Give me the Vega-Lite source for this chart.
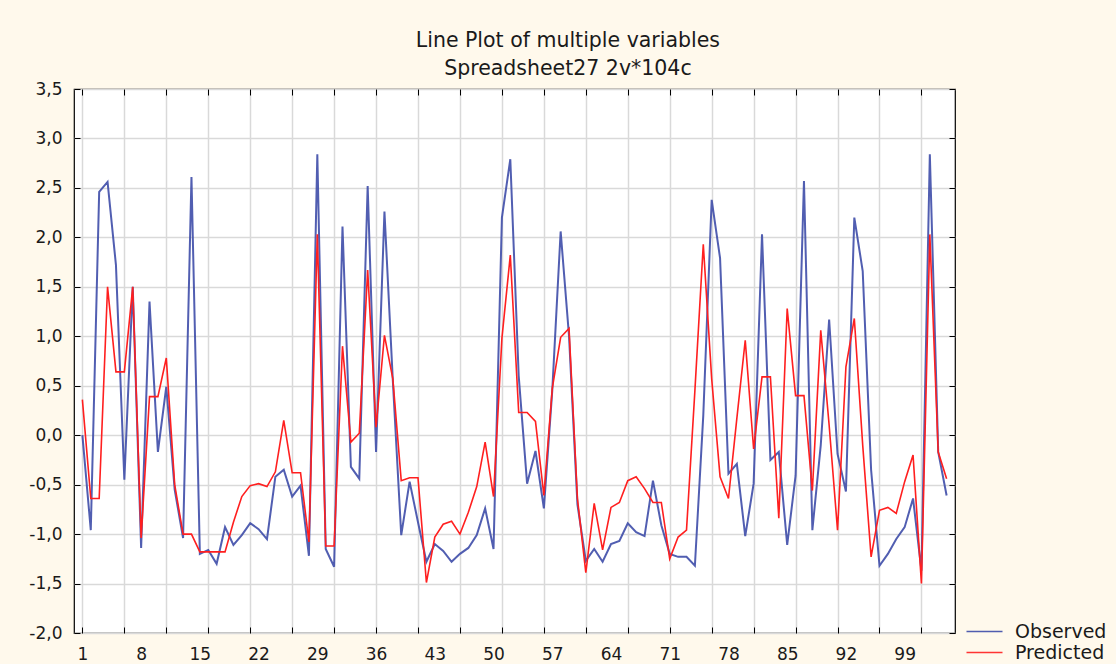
{
  "$schema": "https://vega.github.io/schema/vega-lite/v6.json",
  "width": 881,
  "height": 544,
  "autosize": "none",
  "padding": {"left": 74, "top": 89, "right": 161, "bottom": 31},
  "background": "#FFF9EC",
  "config": {
    "view": {"stroke": "black", "strokeWidth": 1.2, "fill": "white"},
    "font": "DejaVu Sans",
    "axis": {"labelFont": "DejaVu Sans", "labelFontSize": 17, "labelColor": "#1a1a1a", "domainColor": "black", "tickColor": "black", "gridColor": "#D9D9D9", "gridWidth": 1.5, "labelOverlap": false}
  },
  "title": {
    "text": "Line Plot of multiple variables",
    "subtitle": "Spreadsheet27 2v*104c",
    "anchor": "middle",
    "frame": "bounds",
    "font": "DejaVu Sans",
    "fontSize": 20.5,
    "fontWeight": "normal",
    "color": "#1a1a1a",
    "subtitleFont": "DejaVu Sans",
    "subtitleFontSize": 20.5,
    "subtitleColor": "#1a1a1a",
    "subtitlePadding": 7,
    "offset": 1
  },
  "data": {"values": [
    {"c":1,"Observed":0.0,"Predicted":0.36},
    {"c":2,"Observed":-0.96,"Predicted":-0.64},
    {"c":3,"Observed":2.46,"Predicted":-0.64},
    {"c":4,"Observed":2.56,"Predicted":1.5},
    {"c":5,"Observed":1.72,"Predicted":0.64},
    {"c":6,"Observed":-0.45,"Predicted":0.64},
    {"c":7,"Observed":1.5,"Predicted":1.5},
    {"c":8,"Observed":-1.14,"Predicted":-1.04},
    {"c":9,"Observed":1.35,"Predicted":0.39},
    {"c":10,"Observed":-0.17,"Predicted":0.39},
    {"c":11,"Observed":0.49,"Predicted":0.78},
    {"c":12,"Observed":-0.55,"Predicted":-0.5},
    {"c":13,"Observed":-1.04,"Predicted":-1.0},
    {"c":14,"Observed":2.61,"Predicted":-1.0},
    {"c":15,"Observed":-1.2,"Predicted":-1.18},
    {"c":16,"Observed":-1.16,"Predicted":-1.18},
    {"c":17,"Observed":-1.3,"Predicted":-1.18},
    {"c":18,"Observed":-0.93,"Predicted":-1.18},
    {"c":19,"Observed":-1.11,"Predicted":-0.88},
    {"c":20,"Observed":-1.01,"Predicted":-0.62},
    {"c":21,"Observed":-0.89,"Predicted":-0.51},
    {"c":22,"Observed":-0.95,"Predicted":-0.49},
    {"c":23,"Observed":-1.05,"Predicted":-0.52},
    {"c":24,"Observed":-0.42,"Predicted":-0.37},
    {"c":25,"Observed":-0.35,"Predicted":0.15},
    {"c":26,"Observed":-0.62,"Predicted":-0.38},
    {"c":27,"Observed":-0.51,"Predicted":-0.38},
    {"c":28,"Observed":-1.22,"Predicted":-1.08},
    {"c":29,"Observed":2.84,"Predicted":2.03},
    {"c":30,"Observed":-1.15,"Predicted":-1.12},
    {"c":31,"Observed":-1.33,"Predicted":-1.12},
    {"c":32,"Observed":2.11,"Predicted":0.9},
    {"c":33,"Observed":-0.32,"Predicted":-0.07},
    {"c":34,"Observed":-0.44,"Predicted":0.02},
    {"c":35,"Observed":2.52,"Predicted":1.67},
    {"c":36,"Observed":-0.17,"Predicted":0.08},
    {"c":37,"Observed":2.26,"Predicted":1.01},
    {"c":38,"Observed":0.55,"Predicted":0.57},
    {"c":39,"Observed":-1.01,"Predicted":-0.46},
    {"c":40,"Observed":-0.47,"Predicted":-0.43},
    {"c":41,"Observed":-0.88,"Predicted":-0.43},
    {"c":42,"Observed":-1.28,"Predicted":-1.49},
    {"c":43,"Observed":-1.1,"Predicted":-1.03},
    {"c":44,"Observed":-1.17,"Predicted":-0.9},
    {"c":45,"Observed":-1.28,"Predicted":-0.87},
    {"c":46,"Observed":-1.2,"Predicted":-1.0},
    {"c":47,"Observed":-1.14,"Predicted":-0.78},
    {"c":48,"Observed":-1.01,"Predicted":-0.52},
    {"c":49,"Observed":-0.74,"Predicted":-0.07},
    {"c":50,"Observed":-1.15,"Predicted":-0.62},
    {"c":51,"Observed":2.2,"Predicted":0.98},
    {"c":52,"Observed":2.79,"Predicted":1.82},
    {"c":53,"Observed":0.6,"Predicted":0.23},
    {"c":54,"Observed":-0.49,"Predicted":0.23},
    {"c":55,"Observed":-0.16,"Predicted":0.14},
    {"c":56,"Observed":-0.74,"Predicted":-0.61},
    {"c":57,"Observed":0.45,"Predicted":0.47},
    {"c":58,"Observed":2.06,"Predicted":0.99},
    {"c":59,"Observed":1.0,"Predicted":1.08},
    {"c":60,"Observed":-0.7,"Predicted":-0.64},
    {"c":61,"Observed":-1.27,"Predicted":-1.39},
    {"c":62,"Observed":-1.15,"Predicted":-0.69},
    {"c":63,"Observed":-1.28,"Predicted":-1.16},
    {"c":64,"Observed":-1.1,"Predicted":-0.73},
    {"c":65,"Observed":-1.07,"Predicted":-0.68},
    {"c":66,"Observed":-0.89,"Predicted":-0.46},
    {"c":67,"Observed":-0.98,"Predicted":-0.42},
    {"c":68,"Observed":-1.02,"Predicted":-0.54},
    {"c":69,"Observed":-0.46,"Predicted":-0.68},
    {"c":70,"Observed":-0.91,"Predicted":-0.68},
    {"c":71,"Observed":-1.2,"Predicted":-1.25},
    {"c":72,"Observed":-1.23,"Predicted":-1.03},
    {"c":73,"Observed":-1.23,"Predicted":-0.96},
    {"c":74,"Observed":-1.32,"Predicted":0.45},
    {"c":75,"Observed":0.2,"Predicted":1.93},
    {"c":76,"Observed":2.38,"Predicted":0.57},
    {"c":77,"Observed":1.79,"Predicted":-0.42},
    {"c":78,"Observed":-0.39,"Predicted":-0.64},
    {"c":79,"Observed":-0.29,"Predicted":0.17},
    {"c":80,"Observed":-1.02,"Predicted":0.96},
    {"c":81,"Observed":-0.49,"Predicted":-0.14},
    {"c":82,"Observed":2.03,"Predicted":0.59},
    {"c":83,"Observed":-0.25,"Predicted":0.59},
    {"c":84,"Observed":-0.17,"Predicted":-0.84},
    {"c":85,"Observed":-1.11,"Predicted":1.28},
    {"c":86,"Observed":-0.41,"Predicted":0.4},
    {"c":87,"Observed":2.57,"Predicted":0.4},
    {"c":88,"Observed":-0.96,"Predicted":-0.56},
    {"c":89,"Observed":-0.1,"Predicted":1.06},
    {"c":90,"Observed":1.17,"Predicted":0.1},
    {"c":91,"Observed":-0.19,"Predicted":-0.96},
    {"c":92,"Observed":-0.57,"Predicted":0.69},
    {"c":93,"Observed":2.2,"Predicted":1.18},
    {"c":94,"Observed":1.66,"Predicted":-0.1},
    {"c":95,"Observed":-0.35,"Predicted":-1.23},
    {"c":96,"Observed":-1.32,"Predicted":-0.76},
    {"c":97,"Observed":-1.2,"Predicted":-0.73},
    {"c":98,"Observed":-1.05,"Predicted":-0.79},
    {"c":99,"Observed":-0.93,"Predicted":-0.47},
    {"c":100,"Observed":-0.64,"Predicted":-0.2},
    {"c":101,"Observed":-1.37,"Predicted":-1.5},
    {"c":102,"Observed":2.84,"Predicted":2.03},
    {"c":103,"Observed":-0.17,"Predicted":-0.17},
    {"c":104,"Observed":-0.61,"Predicted":-0.44}
  ]},
  "resolve": {"axis": {"x": "independent", "y": "independent"}},
  "layer": [
    {
      "mark": {"type": "line", "opacity": 0},
      "encoding": {
        "x": {"field": "c", "type": "quantitative",
          "scale": {"domain": [0, 105], "nice": false, "zero": false},
          "axis": {"orient": "top", "title": null, "labels": false, "grid": true, "tickSize": -6, "domain": false,
            "values": [1,6,11,16,21,26,31,36,41,46,51,56,61,66,71,76,81,86,91,96,101]}},
        "y": {"field": "Observed", "type": "quantitative",
          "scale": {"domain": [-2, 3.5], "nice": false, "zero": false},
          "axis": {"orient": "right", "title": null, "labels": false, "grid": true, "tickSize": -6, "domain": false,
            "values": [-2,-1.5,-1,-0.5,0,0.5,1,1.5,2,2.5,3,3.5]}}
      }
    },
    {
      "mark": {"type": "line", "opacity": 0},
      "encoding": {
        "x": {"field": "c", "type": "quantitative",
          "axis": {"orient": "bottom", "title": null, "labels": false, "grid": false, "tickSize": -6, "domain": false,
            "values": [1,6,11,16,21,26,31,36,41,46,51,56,61,66,71,76,81,86,91,96,101]}},
        "y": {"field": "Observed", "type": "quantitative", "axis": null}
      }
    },
    {
      "layer": [
        {
          "mark": {"type": "line", "strokeWidth": 2, "opacity": 0.9},
          "encoding": {
            "x": {"field": "c", "type": "quantitative",
              "axis": {
                "title": null,
                "values": [1,8,15,22,29,36,43,50,57,64,71,78,85,92,99],
                "labelOverlap": false,
                "labelFlush": false,
                "labelBound": false,
                "labelPadding": 13,
                "ticks": false,
                "grid": false,
                "domain": false
              }},
            "y": {"field": "Observed", "type": "quantitative",
              "axis": {
                "title": null,
                "values": [-2,-1.5,-1,-0.5,0,0.5,1,1.5,2,2.5,3,3.5],
                "labelExpr": "replace(replace(format(datum.value, '.1f'), '.', ','), '\u2212', '-')",
                "labelPadding": 18,
                "tickSize": -6,
                "grid": false,
                "domain": false,
                "labelFlush": false
              }},
            "color": {"datum": "Observed", "type": "nominal",
              "scale": {"domain": ["Observed", "Predicted"], "range": ["#3E4DA9", "#FF1F1F"]},
              "legend": {
                "title": null,
                "orient": "none",
                "legendX": 901,
                "legendY": 533,
                "symbolType": "M-3,0H3",
                "symbolSize": 144,
                "symbolStrokeWidth": 1.5,
                "labelFontSize": 19,
                "labelFont": "DejaVu Sans",
                "labelColor": "#1a1a1a",
                "labelOffset": 21,
                "rowPadding": 1
              }}
          }
        },
        {
          "mark": {"type": "line", "strokeWidth": 1.6},
          "encoding": {
            "x": {"field": "c", "type": "quantitative"},
            "y": {"field": "Predicted", "type": "quantitative"},
            "color": {"datum": "Predicted", "type": "nominal"}
          }
        }
      ]
    }
  ]
}
